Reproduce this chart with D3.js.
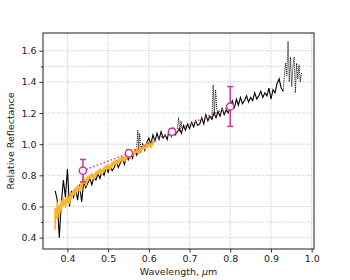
<!DOCTYPE html>
<html>
<head>
<meta charset="utf-8">
<script src="https://cdn.jsdelivr.net/npm/d3@7"></script>
<style>
  body { margin: 0; background: #fff; }
  text { font-family: "DejaVu Sans", sans-serif; }
</style>
</head>
<body>
<script>
// black spectrum (solid part)
var specWl = [0.370, 0.375, 0.380, 0.385, 0.390, 0.395, 0.400, 0.405, 0.410, 0.415,
  0.420, 0.425, 0.430, 0.435, 0.440, 0.445, 0.450, 0.455, 0.460, 0.465,
  0.470, 0.475, 0.480, 0.485, 0.490, 0.495, 0.500, 0.505, 0.510, 0.515,
  0.520, 0.525, 0.530, 0.535, 0.540, 0.545, 0.550, 0.555, 0.560, 0.565,
  0.570, 0.575, 0.580, 0.585, 0.590, 0.595, 0.600, 0.605, 0.610, 0.615,
  0.620, 0.625, 0.630, 0.635, 0.640, 0.645, 0.650, 0.655, 0.660, 0.665,
  0.670, 0.675, 0.680, 0.685, 0.690, 0.695, 0.700, 0.705, 0.710, 0.715,
  0.720, 0.725, 0.730, 0.735, 0.740, 0.745, 0.750, 0.755, 0.760, 0.765,
  0.770, 0.775, 0.780, 0.785, 0.790, 0.795, 0.800, 0.805, 0.810, 0.815,
  0.820, 0.825, 0.830, 0.835, 0.840, 0.845, 0.850, 0.855, 0.860, 0.865,
  0.870, 0.875, 0.880, 0.885, 0.890, 0.895, 0.900, 0.905, 0.910, 0.915,
  0.920, 0.925, 0.930];
var specRefl = [0.70, 0.64, 0.40, 0.62, 0.77, 0.66, 0.84, 0.60, 0.70, 0.66,
  0.72, 0.64, 0.74, 0.63, 0.76, 0.72, 0.75, 0.78, 0.74, 0.79,
  0.77, 0.81, 0.78, 0.83, 0.80, 0.85, 0.82, 0.86, 0.83, 0.85,
  0.89, 0.85, 0.88, 0.91, 0.87, 0.92, 0.90, 0.94, 0.91, 0.96,
  0.93, 0.97, 0.95, 1.00, 0.96, 1.01, 1.04, 1.00, 1.06, 1.02,
  1.07, 1.03, 1.08, 1.04, 1.06, 1.03, 1.09, 1.05, 1.10, 1.06,
  1.08, 1.10, 1.07, 1.12, 1.09, 1.13, 1.10, 1.14, 1.11, 1.15,
  1.12, 1.13, 1.17, 1.13, 1.19, 1.15, 1.18, 1.16, 1.20, 1.17,
  1.21, 1.18, 1.23, 1.19, 1.22, 1.20, 1.24, 1.28, 1.23, 1.29,
  1.25, 1.30, 1.26, 1.28, 1.31, 1.27, 1.30, 1.28, 1.33, 1.29,
  1.31, 1.34, 1.30, 1.33, 1.31, 1.36, 1.29, 1.35, 1.33, 1.39,
  1.42, 1.36, 1.34];

// noisy parts of the spectrum (dotted)
var dotWl = [
  [0.570, 0.573, 0.575, 0.577, 0.580],
  [0.670, 0.673, 0.676, 0.679, 0.681],
  [0.755, 0.758, 0.761, 0.764, 0.767, 0.770],
  [0.930, 0.933, 0.936, 0.939, 0.942, 0.945, 0.948, 0.951, 0.954, 0.957,
   0.960, 0.963, 0.966, 0.969, 0.972, 0.975]
];
var dotRefl = [
  [0.97, 1.09, 0.95, 1.07, 0.98],
  [1.10, 1.17, 1.08, 1.15, 1.10],
  [1.16, 1.38, 1.20, 1.35, 1.22, 1.21],
  [1.34, 1.45, 1.52, 1.44, 1.66, 1.40, 1.56, 1.37, 1.50, 1.56,
   1.33, 1.52, 1.42, 1.51, 1.40, 1.46]
];

// orange spectrum with errors
var orWl = [0.370, 0.375, 0.380, 0.385, 0.390, 0.395, 0.400, 0.405, 0.410, 0.415,
  0.420, 0.425, 0.430, 0.435, 0.440, 0.445, 0.450, 0.455, 0.460, 0.465,
  0.470, 0.475, 0.480, 0.485, 0.490, 0.495, 0.500, 0.505, 0.510, 0.515,
  0.520, 0.525, 0.530, 0.535, 0.540, 0.545, 0.550, 0.555, 0.560, 0.565,
  0.570, 0.575, 0.580, 0.585, 0.590, 0.595, 0.600, 0.605, 0.610];
var orRefl = [0.52, 0.58, 0.57, 0.61, 0.63, 0.62, 0.65, 0.64, 0.67, 0.69,
  0.70, 0.72, 0.71, 0.74, 0.77, 0.75, 0.78, 0.79, 0.80, 0.79,
  0.81, 0.82, 0.83, 0.82, 0.84, 0.85, 0.86, 0.85, 0.87, 0.88,
  0.88, 0.89, 0.90, 0.91, 0.90, 0.92, 0.93, 0.92, 0.94, 0.95,
  0.96, 0.95, 0.97, 0.98, 0.98, 0.99, 1.00, 0.99, 1.01];
var orErr = [0.07, 0.05, 0.04, 0.03, 0.03, 0.03, 0.025, 0.025, 0.02, 0.02,
  0.02, 0.02, 0.02, 0.02, 0.02, 0.02, 0.015, 0.015, 0.015, 0.015,
  0.015, 0.015, 0.015, 0.015, 0.015, 0.015, 0.015, 0.015, 0.015, 0.015,
  0.015, 0.015, 0.015, 0.015, 0.015, 0.015, 0.015, 0.015, 0.015, 0.015,
  0.015, 0.015, 0.015, 0.015, 0.015, 0.015, 0.015, 0.015, 0.015];

// magenta photometry points
var phWl = [0.438, 0.551, 0.657, 0.800];
var phRefl = [0.83, 0.942, 1.08, 1.242];
var phErr = [0.072, 0.02, 0.02, 0.128];

var xTicks = [0.4, 0.5, 0.6, 0.7, 0.8, 0.9, 1.0];
var yTicks = [0.4, 0.6, 0.8, 1.0, 1.2, 1.4, 1.6];
var yMinor = [0.5, 1.5];

var width = 350;
var height = 280;
var margin = { top: 33, right: 36, bottom: 31, left: 43 };

var svg = d3.select("body")
  .append("svg")
  .attr("width", width)
  .attr("height", height);

var x = d3.scaleLinear().domain([0.340, 1.0057]).range([margin.left, width - margin.right]);
var y = d3.scaleLinear().domain([0.327, 1.714]).range([height - margin.bottom, margin.top]);

// grid
var grid = svg.append("g")
  .attr("stroke", "#b0b0b0")
  .attr("stroke-width", 0.8)
  .attr("stroke-dasharray", "1,1.5");
grid.selectAll("line.gx")
  .data(xTicks)
  .enter()
  .append("line")
  .attr("x1", function (d) { return x(d); })
  .attr("x2", function (d) { return x(d); })
  .attr("y1", margin.top)
  .attr("y2", height - margin.bottom);
grid.selectAll("line.gy")
  .data(yTicks.concat(yMinor))
  .enter()
  .append("line")
  .attr("x1", margin.left)
  .attr("x2", width - margin.right)
  .attr("y1", function (d) { return y(d); })
  .attr("y2", function (d) { return y(d); });

var plot = svg.append("g");

var line = d3.line()
  .x(function (d) { return x(d[0]); })
  .y(function (d) { return y(d[1]); });

// black spectrum
plot.append("path")
  .datum(d3.zip(specWl, specRefl))
  .attr("fill", "none")
  .attr("stroke", "#000")
  .attr("stroke-width", 1.1)
  .attr("d", line);

dotWl.forEach(function (wl, i) {
  plot.append("path")
    .datum(d3.zip(wl, dotRefl[i]))
    .attr("fill", "none")
    .attr("stroke", "#000")
    .attr("stroke-width", 1)
    .attr("stroke-dasharray", "1,1")
    .attr("d", line);
});

// orange spectrum
var orData = d3.zip(orWl, orRefl, orErr);
var orColor = "#fdb42b";
plot.append("g")
  .selectAll("line")
  .data(orData)
  .enter()
  .append("line")
  .attr("stroke", orColor)
  .attr("stroke-width", 1.8)
  .attr("x1", function (d) { return x(d[0]); })
  .attr("x2", function (d) { return x(d[0]); })
  .attr("y1", function (d) { return y(d[1] - d[2]); })
  .attr("y2", function (d) { return y(d[1] + d[2]); });
plot.append("path")
  .datum(orData)
  .attr("fill", "none")
  .attr("stroke", orColor)
  .attr("stroke-width", 3)
  .attr("d", line);

// magenta points
var phData = d3.zip(phWl, phRefl, phErr);
var mag = "#c4399b";
plot.append("path")
  .datum(phData)
  .attr("fill", "none")
  .attr("stroke", mag)
  .attr("stroke-width", 1.5)
  .attr("stroke-dasharray", "1.5,2.2")
  .attr("d", line);

var eb = plot.append("g")
  .attr("stroke", mag)
  .attr("stroke-width", 1.5);
eb.selectAll("line.v")
  .data(phData)
  .enter()
  .append("line")
  .attr("x1", function (d) { return x(d[0]); })
  .attr("x2", function (d) { return x(d[0]); })
  .attr("y1", function (d) { return y(d[1] - d[2]); })
  .attr("y2", function (d) { return y(d[1] + d[2]); });
[-1, 1].forEach(function (s) {
  eb.selectAll("line.c" + s)
    .data(phData)
    .enter()
    .append("line")
    .attr("x1", function (d) { return x(d[0]) - 3; })
    .attr("x2", function (d) { return x(d[0]) + 3; })
    .attr("y1", function (d) { return y(d[1] + s * d[2]); })
    .attr("y2", function (d) { return y(d[1] + s * d[2]); });
});
plot.selectAll("circle")
  .data(phData)
  .enter()
  .append("circle")
  .attr("cx", function (d) { return x(d[0]); })
  .attr("cy", function (d) { return y(d[1]); })
  .attr("r", 3.6)
  .attr("fill", "#fff")
  .attr("stroke", mag)
  .attr("stroke-width", 1.5);

// axes
var xAxis = svg.append("g")
  .attr("transform", "translate(0," + (height - margin.bottom) + ")")
  .call(d3.axisBottom(x).tickValues(xTicks).tickFormat(d3.format(".1f")).tickSize(3.5).tickPadding(3).tickSizeOuter(0));
var yAxis = svg.append("g")
  .attr("transform", "translate(" + margin.left + ",0)")
  .call(d3.axisLeft(y).tickValues(yTicks).tickFormat(d3.format(".1f")).tickSize(3.5).tickPadding(3).tickSizeOuter(0));
svg.append("g")
  .attr("transform", "translate(" + margin.left + ",0)")
  .call(d3.axisLeft(y).tickValues(yMinor).tickFormat("").tickSize(2).tickSizeOuter(0))
  .select(".domain").remove();

[xAxis, yAxis].forEach(function (a) {
  a.selectAll("text").attr("font-size", "9.5px").attr("fill", "#222").attr("font-family", "DejaVu Sans");
  a.select(".domain").remove();
});
svg.selectAll(".tick line").attr("stroke", "#333");

// frame
svg.append("rect")
  .attr("x", margin.left)
  .attr("y", margin.top)
  .attr("width", width - margin.left - margin.right)
  .attr("height", height - margin.top - margin.bottom)
  .attr("fill", "none")
  .attr("stroke", "#333")
  .attr("stroke-width", 1.1);

// labels
svg.append("text")
  .attr("transform", "translate(14," + (margin.top + (height - margin.top - margin.bottom) / 2) + ") rotate(-90)")
  .attr("text-anchor", "middle")
  .attr("font-size", "9.5px")
  .attr("fill", "#222")
  .text("Relative Reflectance");

var xl = svg.append("text")
  .attr("x", margin.left + (width - margin.left - margin.right) / 2)
  .attr("y", 275)
  .attr("text-anchor", "middle")
  .attr("font-size", "9.5px")
  .attr("fill", "#222");
xl.append("tspan").text("Wavelength, ");
xl.append("tspan").attr("font-style", "italic").text("μ");
xl.append("tspan").text("m");
</script>
</body>
</html>
